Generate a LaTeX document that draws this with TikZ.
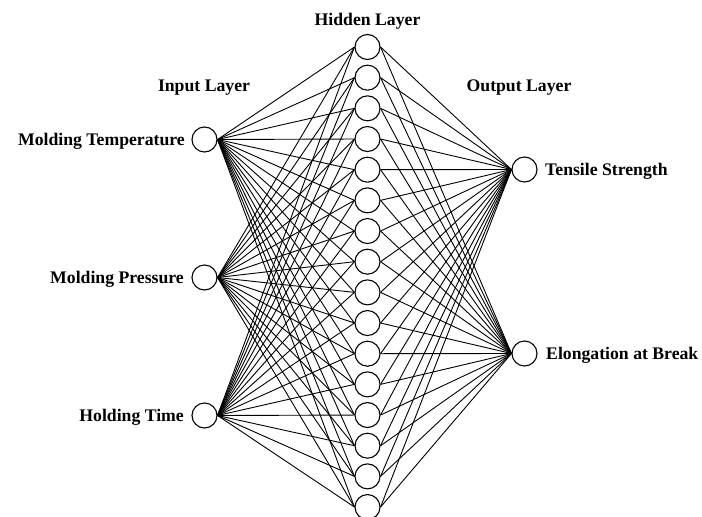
\documentclass[tikz,border=0pt]{standalone}
\usepackage{fontspec}
\setmainfont{Liberation Serif}
\begin{document}
\begin{tikzpicture}[x=1pt,y=-1pt,
  neuron/.style={circle,draw,line width=1.1pt,minimum size=25pt,inner sep=0pt},
  conn/.style={line width=0.9pt},
  lbl/.style={font=\fontsize{17.7}{20}\selectfont\bfseries,inner sep=0pt}]
\useasboundingbox (0,0) rectangle (702,517);
% hidden layer
\foreach \i in {0,...,15}{
  \node[neuron] (h\i) at (367.5,{47+30.67*\i}) {};
}
% input layer
\node[neuron] (i1) at (204.5,139.5) {};
\node[neuron] (i2) at (204.5,277.5) {};
\node[neuron] (i3) at (204.5,415.5) {};
% output layer
\node[neuron] (o1) at (524.5,169.5) {};
\node[neuron] (o2) at (524.5,353.5) {};
% connections
\foreach \a in {i1,i2,i3}{
  \foreach \i in {0,...,15}{
    \draw[conn] (\a.east) -- (h\i.west);
  }
}
\foreach \b in {o1,o2}{
  \foreach \i in {0,...,15}{
    \draw[conn] (h\i.east) -- (\b.west);
  }
}
% labels
\node[lbl,anchor=base] (th) at (367.5,25) {Hidden Layer};
\node[lbl,anchor=base] (ti) at (204,91) {Input Layer};
\node[lbl,anchor=base] (to) at (519,91.5) {Output Layer};
\node[lbl,anchor=base east] (l1) at (185,145) {Molding Temperature};
\node[lbl,anchor=base east] (l2) at (184,283.5) {Molding Pressure};
\node[lbl,anchor=base east] (l3) at (184,421.5) {Holding Time};
\node[lbl,anchor=base west] (r1) at (545,175.5) {Tensile Strength};
\node[lbl,anchor=base west] (r2) at (546,359.5) {Elongation at Break};
\end{tikzpicture}
\end{document}
